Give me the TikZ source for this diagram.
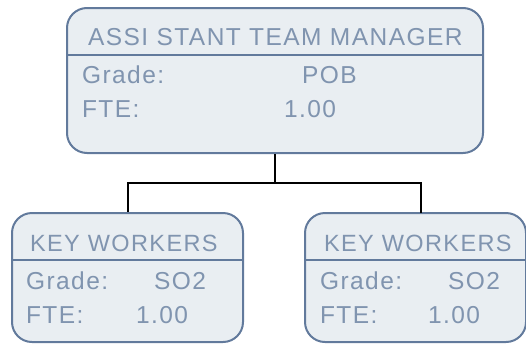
\documentclass[tikz,border=0pt]{standalone}
\usepackage{fontspec}
\setmainfont{Liberation Sans}[LetterSpace=6]

\begin{document}
\begin{tikzpicture}[x=1pt,y=-1pt,line width=2pt]

    \definecolor{boxfill}{RGB}{233,238,242}
    \definecolor{boxline}{RGB}{98,122,156}
    \definecolor{boxtext}{RGB}{128,148,175}

    \tikzset{
        post/.style={draw=boxline,fill=boxfill,rounded corners=20pt,
            inner sep=0pt,minimum height=129pt},
        label/.style={anchor=base west,inner sep=0pt,text=boxtext,
            font=\fontsize{24.5}{28}\selectfont},
        small label/.style={label,font=\fontsize{23.5}{27}\selectfont}
    }

    \useasboundingbox (0,0) rectangle (526,343);

    % manager
    \node[post,minimum width=416pt,minimum height=145pt] (mgr) at (275,80.5) {};
    \draw[boxline] (mgr.west |- 0,55) -- (mgr.east |- 0,55);
    \node[label] (mgrtitle) at (87,45) {ASSI STANT TEAM MANAGER};
    \node[label] (mgrgrade) at (81,83) {Grade:};
    \node[label] (mgrgradev) at (301,83) {POB};
    \node[label] (mgrfte) at (81,117) {FTE:};
    \node[label] (mgrftev) at (283,117) {1.00};

    % key workers, left
    \node[post,minimum width=231pt] (kwa) at (127.5,277.5) {};
    \draw[boxline] (kwa.west |- 0,260) -- (kwa.east |- 0,260);
    \node[small label] (kwatitle) at (29,251) {KEY WORKERS};
    \node[label] (kwagrade) at (25,289) {Grade:};
    \node[label] (kwagradev) at (153,289) {SO2};
    \node[label] (kwafte) at (25,323) {FTE:};
    \node[label] (kwaftev) at (135,323) {1.00};

    % key workers, right
    \node[post,minimum width=221pt] (kwb) at (415.5,277.5) {};
    \draw[boxline] (kwb.west |- 0,260) -- (kwb.east |- 0,260);
    \node[small label] (kwbtitle) at (323,251) {KEY WORKERS};
    \node[label] (kwbgrade) at (319,289) {Grade:};
    \node[label] (kwbgradev) at (447,289) {SO2};
    \node[label] (kwbfte) at (319,323) {FTE:};
    \node[label] (kwbftev) at (427,323) {1.00};

    % connectors
    \coordinate (bus) at (275,183);
    \coordinate (kwbtop) at (421,213);
    \draw[black] (mgr.south) -- (bus);
    \draw[black] (bus) -| (kwa.north);
    \draw[black] (bus) -| (kwbtop);

\end{tikzpicture}
\end{document}
